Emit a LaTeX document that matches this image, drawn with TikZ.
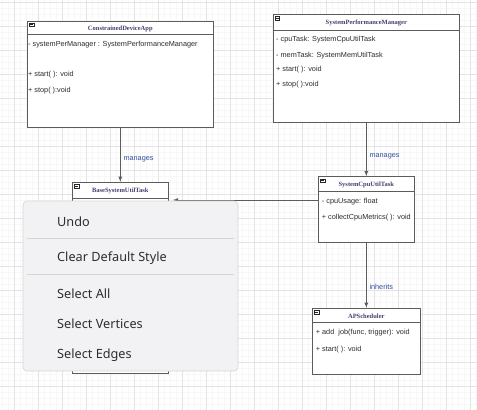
\documentclass[tikz,border=0pt]{standalone}
\usepackage{fontspec}
\setmainfont{Liberation Sans}
\newfontfamily\titlefont{Liberation Serif}
\newfontfamily\menufont{Noto Sans}
\usetikzlibrary{calc}
\usetikzlibrary{positioning}

\definecolor{gridminor}{HTML}{F7F7F7}
\definecolor{gridmajor}{HTML}{E3E3E3}
\definecolor{umlline}{HTML}{5C5C5C}
\definecolor{umltitle}{HTML}{4B3C6E}
\definecolor{umltext}{HTML}{2A2A34}
\definecolor{edgelabel}{HTML}{2F4F9F}
\definecolor{menubg}{HTML}{F2F2F4}

\tikzset{
  classbox/.style={draw=umlline, line width=0.9pt, fill=white, inner sep=0pt},
  classtitle/.style={font=\titlefont\bfseries\fontsize{6.5}{7.5}\selectfont, text=umltitle, anchor=base, inner sep=0pt},
  member/.style={font=\fontsize{7.3}{9}\selectfont, text=umltext, anchor=base west, inner sep=0pt},
  relation/.style={draw=umlline, line width=0.8pt, -latex},
  rellabel/.style={font=\fontsize{7.3}{9}\selectfont, text=edgelabel, anchor=base west, inner sep=0pt},
  menuitem/.style={font=\menufont\fontsize{12.7}{15}\selectfont, text=black!82, anchor=base west, inner sep=0pt},
}

\begin{document}
\begin{tikzpicture}[x=1pt,y=-1pt]
    \useasboundingbox (0,0) rectangle (477,410);
    \fill[white] (0,0) rectangle (477,410);
    % Grid
    \foreach \i in {0,...,79} \draw[gridminor, line width=0.5pt] ({2.3+6*\i},0) -- ++(0,410);
    \foreach \i in {0,...,68} \draw[gridminor, line width=0.5pt] (0,{2+6*\i}) -- ++(477,0);
    \foreach \i in {0,...,19} \draw[gridmajor, line width=0.7pt] ({14.3+24*\i},0) -- ++(0,410);
    \foreach \i in {0,...,17} \draw[gridmajor, line width=0.7pt] (0,{2+24*\i}) -- ++(477,0);

    % Class boxes
    \node[classbox, minimum width=186pt, minimum height=106.7pt] (cda) at (120.3,74.3) {};
    \node[classbox, minimum width=186.6pt, minimum height=107.3pt] (spm) at (366.3,68.3) {};
    \node[classbox, minimum width=96pt, minimum height=191.2pt] (base) at (120.3,277.9) {};
    \node[classbox, minimum width=96pt, minimum height=65.6pt] (cpu) at (366.3,209.5) {};
    \node[classbox, minimum width=107.7pt, minimum height=66pt] (ap) at (366.3,341.3) {};

    % Headers and collapse icons
    \foreach \c/\h in {cda/14,spm/16,base/17,cpu/15,ap/15} {
        \draw[umlline, line width=0.8pt] ([yshift=-\h pt]\c.north west) -- ([yshift=-\h pt]\c.north east);
        \draw[black!85, line width=0.5pt, fill=white] ([shift={(2.5pt,-2.5pt)}]\c.north west) rectangle ++(4.5,3.5);
        \draw[black!85, line width=0.6pt] ([shift={(3.3pt,-4.25pt)}]\c.north west) -- ++(2.9,0);
    }
    \node[classtitle] (cdaT) at ([yshift=-10.2pt]cda.north) {ConstrainedDeviceApp};
    \node[classtitle] (spmT) at ([yshift=-10.4pt]spm.north) {SystemPerformanceManager};
    \node[classtitle] (baseT) at ([yshift=-10.8pt]base.north) {BaseSystemUtilTask};
    \node[classtitle] (cpuT) at ([yshift=-9.8pt]cpu.north) {SystemCpuUtilTask};
    \node[classtitle] (apT) at ([yshift=-10.5pt]ap.north) {APScheduler};

    % Members
    \node[member] (cdaA1) at (28,46.5) {- systemPerManager : SystemPerformanceManager};
    \node[member] (cdaM1) at (28,76) {+ start( ): void};
    \node[member] (cdaM2) at (28,92) {+ stop( ):void};
    \node[member] (spmA1) at (276,41) {- cpuTask: SystemCpuUtilTask};
    \node[member] (spmA2) at (276,57.7) {- memTask: SystemMemUtilTask};
    \node[member] (spmM1) at (276,71) {+ start( ): void};
    \node[member] (spmM2) at (276,86.4) {+ stop( ):void};
    \node[member] (cpuA1) at (321.7,203) {- cpuUsage: float};
    \node[member] (cpuM1) at (321.7,219.5) {+ collectCpuMetrics( ): void};
    \node[member] (apM1) at (315.7,334) {+ add\ \ job(func, trigger): void};
    \node[member] (apM2) at (315.7,351) {+ start( ): void};

    % Relations
    \coordinate (baseIn) at (173,200);
    \draw[relation] (cda.south) -- (base.north); % manages
    \draw[relation] (spm.south) -- (cpu.north); % manages
    \draw[relation] (cpu.south) -- (ap.north); % inherits
    \draw[relation] (cpu.west |- baseIn) -- (baseIn);
    \node[rellabel] (lblA) at (123.3,160.5) {manages};
    \node[rellabel] (lblB) at (369.3,157.5) {manages};
    \node[rellabel] (lblC) at (369.3,289) {inherits};

    % Context menu
    \node[draw=black!16, line width=0.6pt, fill=menubg, rounded corners=4pt, minimum width=215pt, minimum height=170pt, inner sep=0pt] (menu) at (130.5,286) {};
    \draw[black!17, line width=0.8pt] ([xshift=4pt]menu.west |- 0,238) -- ([xshift=-4pt]menu.east |- 0,238);
    \draw[black!17, line width=0.8pt] ([xshift=4pt]menu.west |- 0,274) -- ([xshift=-4pt]menu.east |- 0,274);
    \node[menuitem] (undo) at (57,226) {Undo};
    \node[menuitem] (clear) at (57,261.5) {Clear Default Style};
    \node[menuitem] (selAll) at (57,298) {Select All};
    \node[menuitem] (selVert) at (57,328.5) {Select Vertices};
    \node[menuitem] (selEdge) at (57,358.5) {Select Edges};
\end{tikzpicture}
\end{document}
